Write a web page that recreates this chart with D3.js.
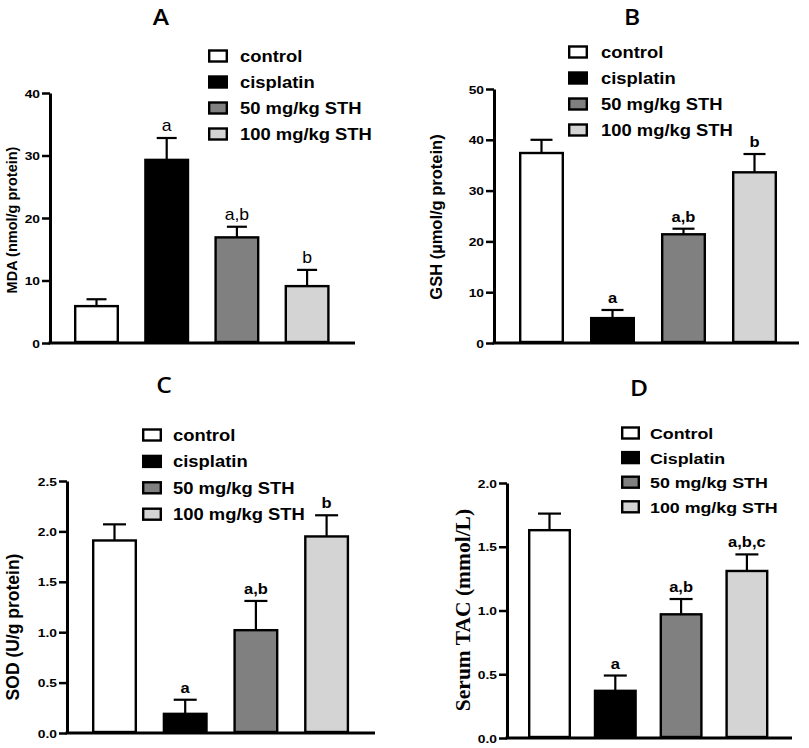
<!DOCTYPE html>
<html><head><meta charset="utf-8">
<script src="https://cdn.jsdelivr.net/npm/d3@7"></script>
<style>body{margin:0;background:#fff}svg{display:block}</style>
</head><body>
<svg id="c" width="809" height="748"></svg>
<script>
// ---- data ----
const groups = ["control", "cisplatin", "50 mg/kg STH", "100 mg/kg STH"];
const groupsD = ["Control", "Cisplatin", "50 mg/kg STH", "100 mg/kg STH"];
const mdaMean = [5.9, 29.3, 16.9, 9.1];
const mdaErr = [1.1, 3.5, 1.7, 2.6];
const mdaSig = ["", "a", "a,b", "b"];
const mdaTicks = [0, 10, 20, 30, 40];
const gshMean = [37.4, 4.9, 21.4, 33.6];
const gshErr = [2.6, 1.6, 1.1, 3.6];
const gshSig = ["", "a", "a,b", "b"];
const gshTicks = [0, 10, 20, 30, 40, 50];
const sodMean = [1.91, 0.19, 1.02, 1.95];
const sodErr = [0.16, 0.14, 0.29, 0.21];
const sodSig = ["", "a", "a,b", "b"];
const sodTicks = [0, 0.5, 1.0, 1.5, 2.0, 2.5];
const tacMean = [1.63, 0.37, 0.97, 1.31];
const tacErr = [0.13, 0.12, 0.12, 0.13];
const tacSig = ["", "a", "a,b", "a,b,c"];
const tacTicks = [0, 0.5, 1.0, 1.5, 2.0];
const fills = ["#ffffff", "#000000", "#808080", "#d4d4d4"];

const SX = 1.15;
const svg = d3.select("#c");
const SANS = "'Liberation Sans', Arial, Helvetica, sans-serif";

function htext(g, x, y, str, size, opts = {}) {
  return g.append("text")
    .attr("transform", `translate(${x},${y}) scale(${opts.sx || SX},1)`)
    .attr("font-family", opts.family || SANS)
    .attr("font-weight", opts.weight || "bold")
    .attr("font-size", size)
    .attr("text-anchor", opts.anchor || "start")
    .attr("fill", "#000")
    .text(str);
}

function panel(p) {
  const g = svg.append("g");
  const y = d3.scaleLinear().domain([0, p.max]).range([p.y0, p.yTop]);
  const pad = 1 - p.barW / p.step;
  const r0 = p.first - p.step / 2;
  const x = d3.scaleBand().domain(p.cats).range([r0, r0 + p.step * p.cats.length])
    .paddingInner(pad).paddingOuter(pad / 2);

  // y axis
  const ax = g.append("g").attr("transform", `translate(${p.x0},0)`)
    .call(d3.axisLeft(y).tickValues(p.ticks).tickSize(8).tickSizeOuter(0).tickFormat(p.fmt));
  ax.select(".domain").attr("stroke-width", 3).attr("stroke", "#000");
  ax.selectAll(".tick line").attr("stroke-width", 2.5).attr("stroke", "#000");
  ax.selectAll(".tick text").remove();
  ax.selectAll(".tick").each(function(d) {
    htext(d3.select(this), -10, 4, p.fmt(d), 11.5, { anchor: "end", sx: 1.2 });
  });
  // x axis line
  g.append("line").attr("x1", p.x0 - 1.5).attr("x2", p.xEnd).attr("y1", p.y0).attr("y2", p.y0)
    .attr("stroke", "#000").attr("stroke-width", 3);

  const data = p.cats.map((c, i) => ({ c, m: p.mean[i], e: p.err[i], s: p.sig[i], f: fills[i] }));
  // error bars
  g.selectAll(".eb").data(data).join("line")
    .attr("x1", d => x(d.c) + x.bandwidth() / 2).attr("x2", d => x(d.c) + x.bandwidth() / 2)
    .attr("y1", d => y(d.m)).attr("y2", d => y(d.m + d.e))
    .attr("stroke", "#000").attr("stroke-width", 2.2);
  g.selectAll(".cap").data(data).join("line")
    .attr("x1", d => x(d.c) + x.bandwidth() / 2 - p.cap / 2).attr("x2", d => x(d.c) + x.bandwidth() / 2 + p.cap / 2)
    .attr("y1", d => y(d.m + d.e)).attr("y2", d => y(d.m + d.e))
    .attr("stroke", "#000").attr("stroke-width", 2.2);
  // bars
  g.selectAll(".bar").data(data).join("rect")
    .attr("x", d => x(d.c) + 1.2).attr("width", x.bandwidth() - 2.4)
    .attr("y", d => y(d.m)).attr("height", d => y(0) - y(d.m) - 1)
    .attr("fill", d => d.f).attr("stroke", "#000").attr("stroke-width", 2.4);
  // significance letters
  data.forEach(d => {
    if (d.s) htext(g, x(d.c) + x.bandwidth() / 2, y(d.m + d.e) - 7, d.s, p.sigSize,
      { anchor: "middle", weight: p.sigWeight, sx: 1.1 });
  });

  // title
  htext(g, p.tx, p.ty, p.title, 22, { anchor: "middle", weight: "600", family: "'Open Sans', sans-serif", sx: 1.12 });

  // legend
  p.cats.forEach((c, i) => {
    const cy = p.ly + i * p.lstep;
    g.append("rect").attr("x", p.lx + 1.2).attr("y", cy - 5.5).attr("width", p.lbw - 2.4).attr("height", 11)
      .attr("fill", fills[i]).attr("stroke", "#000").attr("stroke-width", 2.4);
    htext(g, p.ltx, cy + 6, c, p.lsize);
  });

  // y label
  g.append("text")
    .attr("transform", `translate(${p.ylx},${p.yly}) rotate(-90)`)
    .attr("text-anchor", "middle").attr("dy", "0.35em")
    .attr("font-family", p.yfamily || SANS).attr("font-weight", "bold")
    .attr("font-size", p.ysize).text(p.ylabel);
}

const f0 = d3.format("d"), f1 = d3.format(".1f");

panel({ cats: groups, mean: mdaMean, err: mdaErr, sig: mdaSig, ticks: mdaTicks, fmt: f0, max: 40,
  x0: 50, xEnd: 355, y0: 343, yTop: 93, first: 96.5, step: 70.2, barW: 45, cap: 20,
  sigSize: 16, sigWeight: "normal", title: "A", tx: 161, ty: 25,
  lx: 208, lbw: 20, ltx: 240, ly: 56, lstep: 26, lsize: 16,
  ylabel: "MDA (nmol/g protein)", ylx: 12, yly: 220, ysize: 14.5 });

panel({ cats: groups, mean: gshMean, err: gshErr, sig: gshSig, ticks: gshTicks, fmt: f0, max: 50,
  x0: 494, xEnd: 799, y0: 343, yTop: 89, first: 541.5, step: 71, barW: 45, cap: 22,
  sigSize: 15, sigWeight: "bold", title: "B", tx: 632, ty: 25,
  lx: 568, lbw: 20, ltx: 601, ly: 52, lstep: 26, lsize: 16,
  ylabel: "GSH (µmol/g protein)", ylx: 436, yly: 217, ysize: 16.5 });

panel({ cats: groups, mean: sodMean, err: sodErr, sig: sodSig, ticks: sodTicks, fmt: f1, max: 2.5,
  x0: 67, xEnd: 375, y0: 733, yTop: 481, first: 114.5, step: 70.7, barW: 45, cap: 23,
  sigSize: 15, sigWeight: "bold", title: "C", tx: 164, ty: 393,
  lx: 142, lbw: 20, ltx: 173, ly: 435, lstep: 26.4, lsize: 16,
  ylabel: "SOD (U/g protein)", ylx: 13, yly: 627, ysize: 17.5 });

panel({ cats: groupsD, mean: tacMean, err: tacErr, sig: tacSig, ticks: tacTicks, fmt: f1, max: 2.0,
  x0: 507, xEnd: 792, y0: 738, yTop: 483, first: 549.5, step: 65.8, barW: 43, cap: 23,
  sigSize: 15, sigWeight: "bold", title: "D", tx: 639, ty: 396,
  lx: 621, lbw: 19, ltx: 650, ly: 433, lstep: 24.6, lsize: 15.5,
  ylabel: "Serum TAC (mmol/L)", ylx: 462, yly: 610, ysize: 21.5,
  yfamily: "'Liberation Serif', 'Times New Roman', serif" });
</script>
</body></html>
